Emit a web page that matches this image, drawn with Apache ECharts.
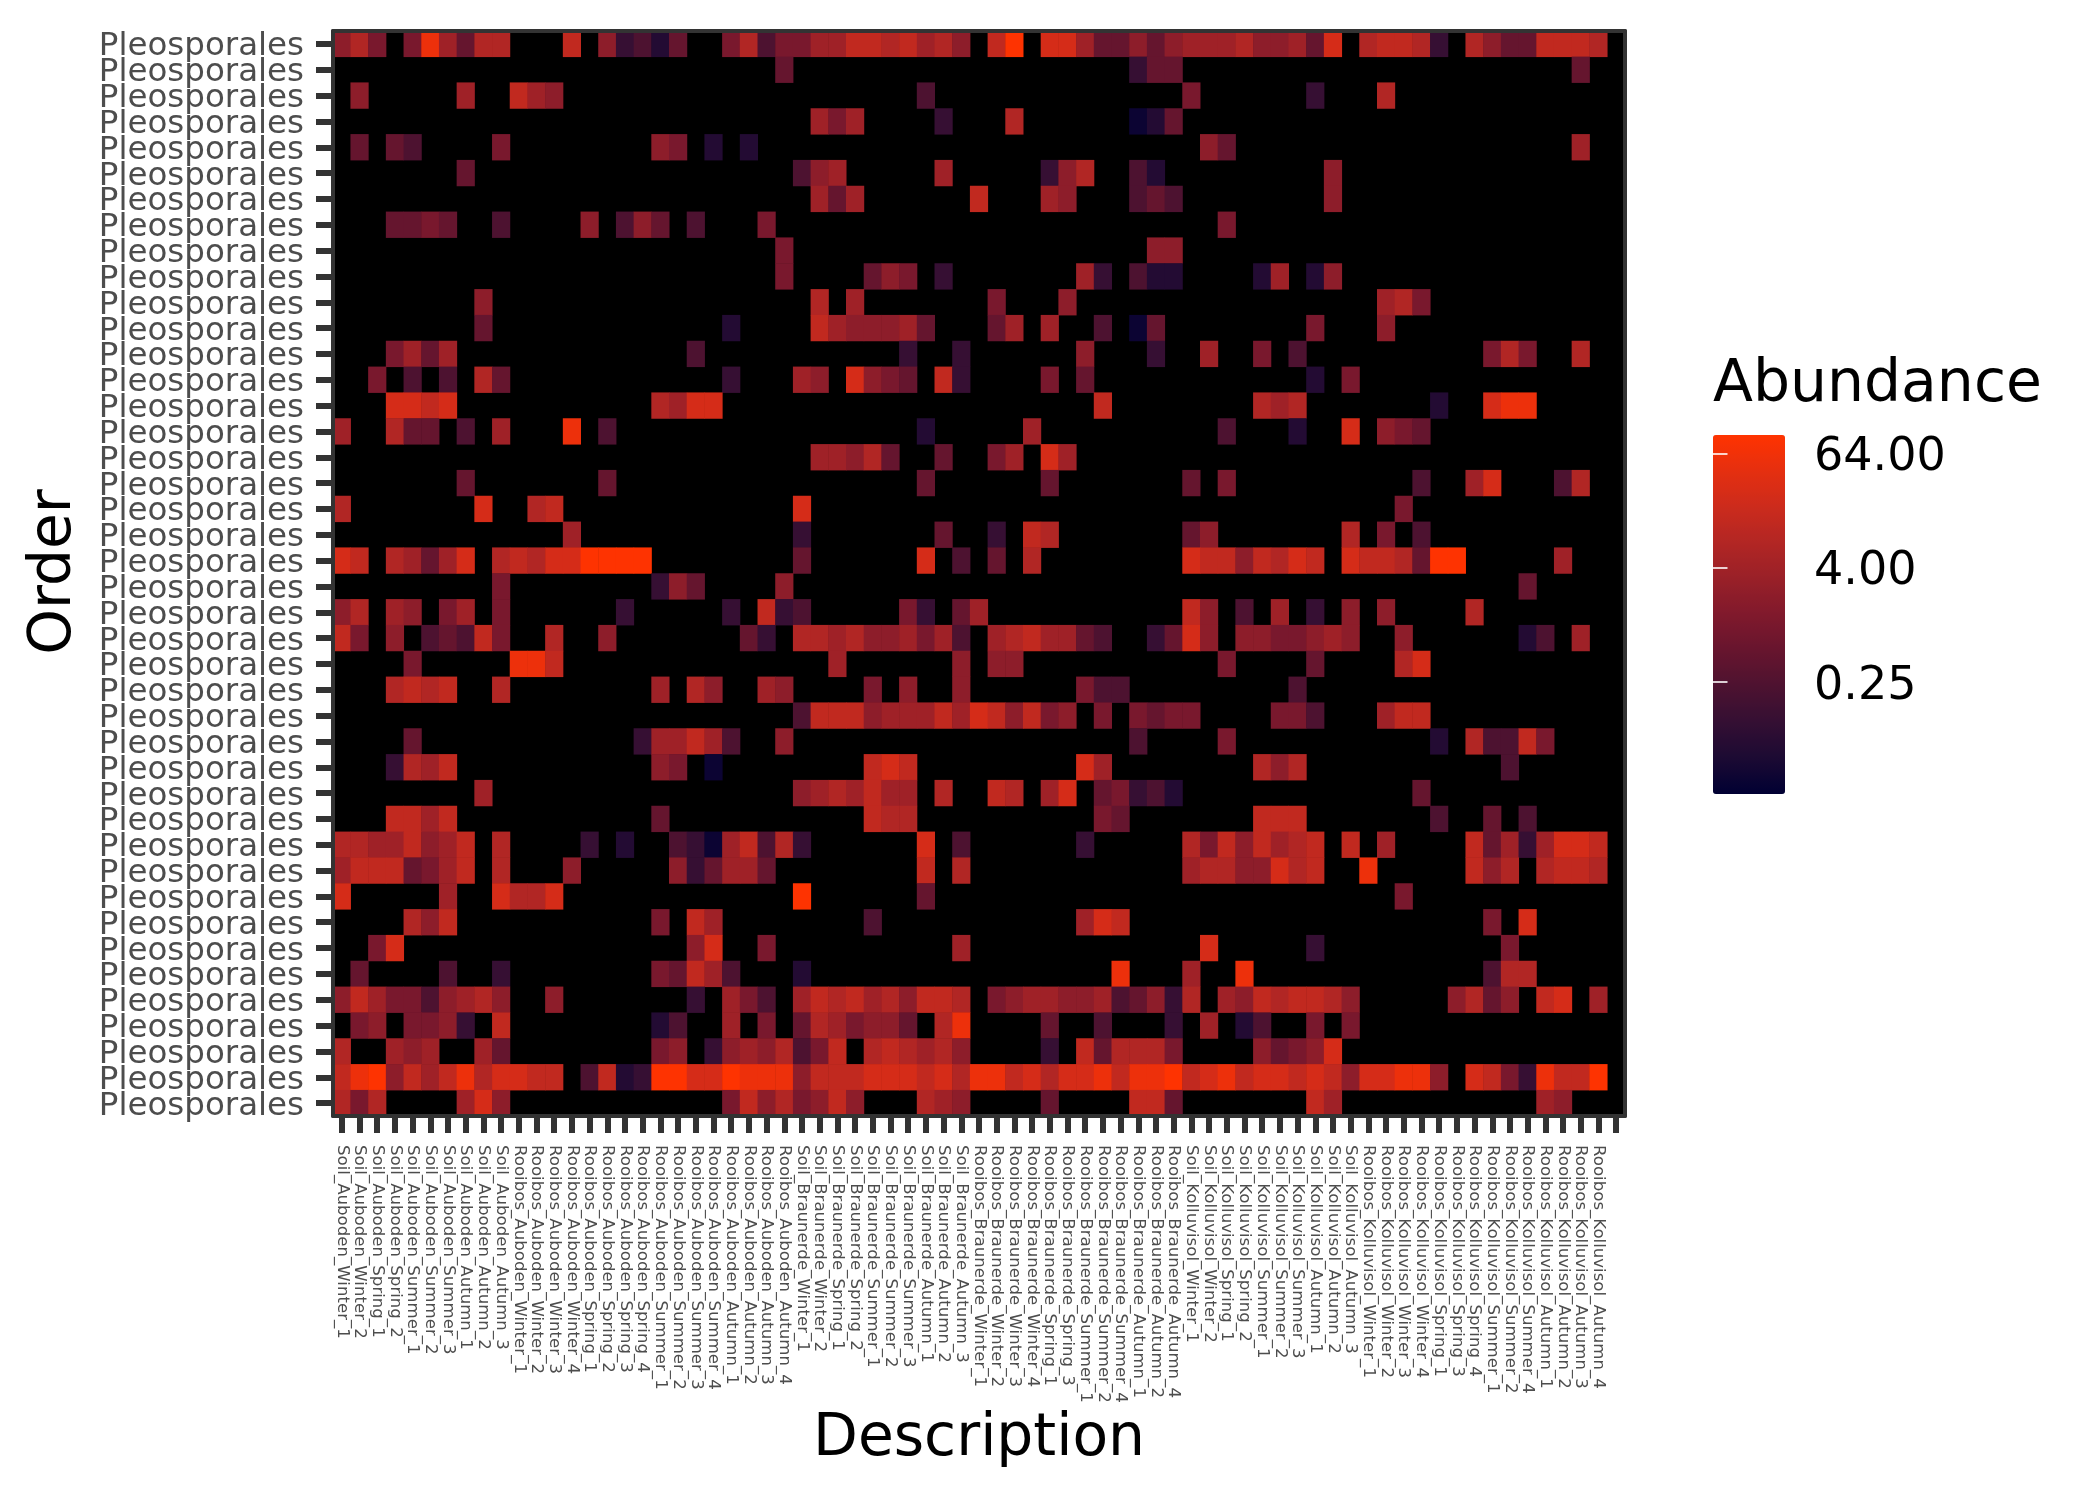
<!DOCTYPE html>
<html><head><meta charset="utf-8">
<style>html,body{margin:0;padding:0;background:#fff}#c{width:2100px;height:1500px}</style>
<script src="https://cdn.jsdelivr.net/npm/echarts@6/dist/echarts.min.js"></script>
</head><body><div id="c"></div>
<script>
const FONT = '"DejaVu Sans"';
const soilSeason = ['Winter_1','Winter_2','Spring_1','Spring_2','Summer_1','Summer_2','Summer_3','Autumn_1','Autumn_2','Autumn_3'];
const rooibosAuboden = ['Winter_1','Winter_2','Winter_3','Winter_4','Spring_1','Spring_2','Spring_3','Spring_4','Summer_1','Summer_2','Summer_3','Summer_4','Autumn_1','Autumn_2','Autumn_3','Autumn_4'];
const rooibosBraunerde = ['Winter_1','Winter_2','Winter_3','Winter_4','Spring_1','Spring_3','Summer_1','Summer_2','Summer_4','Autumn_1','Autumn_2','Autumn_4'];
const rooibosKolluvisol = ['Winter_1','Winter_2','Winter_3','Winter_4','Spring_1','Spring_3','Spring_4','Summer_1','Summer_2','Summer_4','Autumn_1','Autumn_2','Autumn_3','Autumn_4'];
const descriptions = [].concat(
  soilSeason.map(s => 'Soil_Auboden_' + s),
  rooibosAuboden.map(s => 'Rooibos_Auboden_' + s),
  soilSeason.map(s => 'Soil_Braunerde_' + s),
  rooibosBraunerde.map(s => 'Rooibos_Braunerde_' + s),
  soilSeason.map(s => 'Soil_Kolluvisol_' + s),
  rooibosKolluvisol.map(s => 'Rooibos_Kolluvisol_' + s),
  ['']
);
const abundanceLevels = {a:0.024,b:0.05,c:0.1,d:0.22,e:0.5,f:1,g:2,h:3.7,i:7,j:12,k:24,l:54,m:95};
// one entry per row, top to bottom: "startColumn:levelLetters" runs of non-missing cells
const rowCells = [
"0:gif,4:flheii,13:j,15:gcdbe,22:fidffhhjji,32:jhig,37:jm,40:kkheegeghhhigghek,58:ijjic,64:igeejjji",
"25:e,45:cee,70:e",
"1:g,7:h,10:jhg,33:d,48:f,55:c,59:i",
"27:hfh,34:c,38:i,45:a,46:b,47:e",
"1:e,3:ed,9:f,18:gf,21:b,23:b,49:ge,70:h",
"7:e,26:dgh,34:h,40:cgi,45:db,56:g",
"27:heh,36:j,40:hg,45:ded,56:g",
"3:eefe,9:d,14:g,16:dge,20:d,24:f,50:f",
"25:f,46:gg",
"25:f,30:egf,34:c,42:hc,45:dbb,52:bh,55:bg",
"8:g,27:i,29:h,37:f,41:g,59:hif",
"8:e,22:b,27:jhggg,32:he,37:eh,40:h,43:d,45:ae,55:f,59:g",
"3:fheh,20:d,32:c,35:c,42:g,46:c,49:h,52:f,54:d,65:fif,70:i",
"2:f,4:d,6:d,8:ie,22:c,26:hg,29:kgf,32:e,34:jc,40:f,42:e,55:b,57:f",
"3:kkjk,18:ihkk,43:j,52:ihi,62:b,65:kll",
"0:h,3:iee,7:d,9:h,13:l,15:d,33:b,39:h,50:d,54:b,57:k,59:gfe",
"27:hhgie,34:e,37:fh,40:kh",
"7:e,15:e,33:e,40:e,48:e,50:f,61:d,64:hk,69:di",
"0:i,8:k,11:ij,26:k,60:f",
"13:h,26:c,34:e,37:c,39:ji,48:eg,57:i,59:f,61:d",
"0:kj,3:ihehk,9:ijikkmmmm,26:e,33:k,35:d,37:e,39:i,48:kjjgjikj,57:kjjiemm,69:h",
"9:f,18:cge,25:g,67:e",
"0:gi,3:hg,6:fh,9:f,16:c,22:c,24:jcd,32:fc,35:eh,48:jg,51:d,53:h,55:c,57:g,59:g,64:i",
"0:jf,3:g,5:dedjf,12:i,15:g,23:ec,26:iihigg,32:hfhd,37:hijhhed,46:cekg,51:ggffghg,60:g,67:bd,70:h",
"4:f,10:llj,28:h,35:g,37:gg,50:f,55:e,60:ik",
"3:ijij,9:i,18:h,20:ig,24:hg,30:f,32:g,35:g,42:fdd,54:d",
"26:djjjgh,32:hhjhkjgjfg,43:f,45:feff,53:ffd,59:hjj",
"4:e,17:chhjhd,25:g,45:d,50:f,62:b,64:iddjf",
"3:cihj,18:gf,21:a,30:jkj,42:kh,52:igi,66:d",
"8:h,26:ghihjhh,34:i,37:ji,40:hk,43:efcdb,61:e",
"3:jjhj,18:e,30:jii,43:fe,52:jjj,62:d,65:e,67:d",
"0:iihhjghj,9:i,14:c,16:b,19:dcahjdic,33:k,35:d,42:c,48:ifjgjhij,57:j,59:h,64:jehchkkj",
"0:hjjjefhj,9:i,13:g,19:gcehhe,33:j,35:i,48:hiiggkij,58:l,64:jgi,68:ijji",
"0:k,6:h,9:kiik,26:m,33:e,60:f",
"4:igj,18:f,20:jh,30:d,42:hkj,65:f,67:k",
"2:fk,20:gk,24:f,35:h,49:k,55:c,66:f",
"1:e,6:d,9:c,18:fejhd,26:b,44:l,48:h,51:l,65:dii",
"0:gjhffdghig,12:g,20:c,22:hfd,26:hjijhigjji,37:fghhgghdegci,50:hgjijjig,63:gieg,68:jk,71:h",
"1:fg,4:ffgc,9:j,18:bd,22:h,24:f,26:eihfgg,32:e,34:il,40:e,43:d,47:c,49:h,51:bd,55:f,57:f",
"0:i,3:hgh,8:he,18:fg,21:cghgid,27:fj,30:ijihig,40:c,42:jeiiif,52:gefgk",
"0:jlmgjhjlikkjj,14:djbc,18:mmkkmlllgjjjkk,32:kjkilljkikkljllmjkljkkjkjgkkllg,64:kjfcljjm",
"0:ifi,7:hkg,22:fjgifgjg,33:ihg,40:e,45:jje,55:jh,68:hg"
];
const orderLabels = rowCells.map(() => 'Pleosporales');
const colorStops = ['#000033','#1c0a33','#340f33','#4d1230','#67152e','#80192c','#992028','#b22624','#cc2b1c','#e52f10','#ff3300'];
const logMin = -5.94, logMax = 6.64;
const legendTicks = [-2, 2, 6];

const cells = [];
rowCells.forEach((row, y) => {
  row.split(',').forEach(run => {
    const [start, letters] = run.split(':');
    [...letters].forEach((ch, i) => {
      const v = abundanceLevels[ch];
      cells.push([+start + i, y, Math.log2(v), v]);
    });
  });
});

const chart = echarts.init(document.getElementById('c'));
const DARK = '#333333', TXT = '#4d4d4d';
chart.setOption({
  animation: false,
  backgroundColor: '#fff',
  textStyle: {fontFamily: FONT},
  title: {text: 'Abundance', left: 1713, top: 357, padding: 0,
    textStyle: {fontFamily: FONT, fontSize: 58.4, fontWeight: 'normal', color: '#000'}},
  grid: [
    {left: 333, top: 31, width: 1292, height: 1085, show: true, backgroundColor: '#000', borderWidth: 0, containLabel: false},
    {left: 1713, top: 435, width: 72, height: 359, show: false}
  ],
  xAxis: [
    {type: 'category', gridIndex: 0, data: descriptions, position: 'bottom', z: 5,
     name: 'Description', nameLocation: 'center', nameGap: 312,
     nameTextStyle: {fontFamily: FONT, fontSize: 58.3, color: '#000', verticalAlign: 'middle'},
     axisLine: {show: true, lineStyle: {color: DARK, width: 4}},
     axisTick: {show: true, alignWithLabel: true, interval: 0, length: 17, lineStyle: {color: DARK, width: 6}},
     axisLabel: {show: true, interval: 0, rotate: -90, margin: 29, fontFamily: FONT, fontSize: 16.6, color: TXT, hideOverlap: false},
     splitLine: {show: false}},
    {type: 'category', gridIndex: 0, data: descriptions, position: 'top', z: 5,
     axisLine: {show: true, lineStyle: {color: DARK, width: 4}}, axisTick: {show: false}, axisLabel: {show: false}},
    {type: 'value', gridIndex: 1, min: 0, max: 1, show: false}
  ],
  yAxis: [
    {type: 'category', gridIndex: 0, data: orderLabels, inverse: true, position: 'left', z: 5,
     name: 'Order', nameLocation: 'center', nameGap: 278,
     nameTextStyle: {fontFamily: FONT, fontSize: 58.3, color: '#000', verticalAlign: 'middle', padding: [0, 0, 0, 3]},
     axisLine: {show: true, lineStyle: {color: DARK, width: 4}},
     axisTick: {show: true, alignWithLabel: true, interval: 0, length: 17, lineStyle: {color: DARK, width: 6}},
     axisLabel: {show: true, interval: 0, margin: 29, fontFamily: FONT, fontSize: 32.5, color: TXT, hideOverlap: false, verticalAlign: 'top', lineHeight: 6},
     splitLine: {show: false}},
    {type: 'category', gridIndex: 0, data: orderLabels, inverse: true, position: 'right', z: 5,
     axisLine: {show: true, lineStyle: {color: DARK, width: 4}}, axisTick: {show: false}, axisLabel: {show: false}},
    {type: 'value', gridIndex: 1, min: logMin, max: logMax, position: 'right', z: 20,
     axisLine: {show: false}, splitLine: {show: false},
     axisTick: {show: true, inside: true, length: 14.5, customValues: legendTicks, lineStyle: {color: '#fff', width: 1.6}},
     axisLabel: {show: true, margin: 29, customValues: legendTicks, fontFamily: FONT, fontSize: 46, color: '#000', verticalAlign: 'top', lineHeight: 10,
       formatter: v => Math.pow(2, v).toFixed(2)}},
    {type: 'value', gridIndex: 1, min: logMin, max: logMax, position: 'left', z: 20,
     axisLine: {show: false}, splitLine: {show: false}, axisLabel: {show: false},
     axisTick: {show: true, inside: true, length: 14.5, customValues: legendTicks, lineStyle: {color: '#fff', width: 1.6}}}
  ],
  visualMap: {
    type: 'continuous', seriesIndex: 0, dimension: 2, min: logMin, max: logMax,
    left: 1713, top: 435, itemWidth: 72, itemHeight: 359, padding: 0, z: 4,
    calculable: false, realtime: false, hoverLink: false, showLabel: false, text: null,
    inRange: {color: colorStops}
  },
  series: [{
    type: 'heatmap', xAxisIndex: 0, yAxisIndex: 0, data: cells, z: 2,
    encode: {x: 0, y: 1}, progressive: 0, silent: true, itemStyle: {borderWidth: 0},
    emphasis: {disabled: true}
  }]
});
</script></body></html>
